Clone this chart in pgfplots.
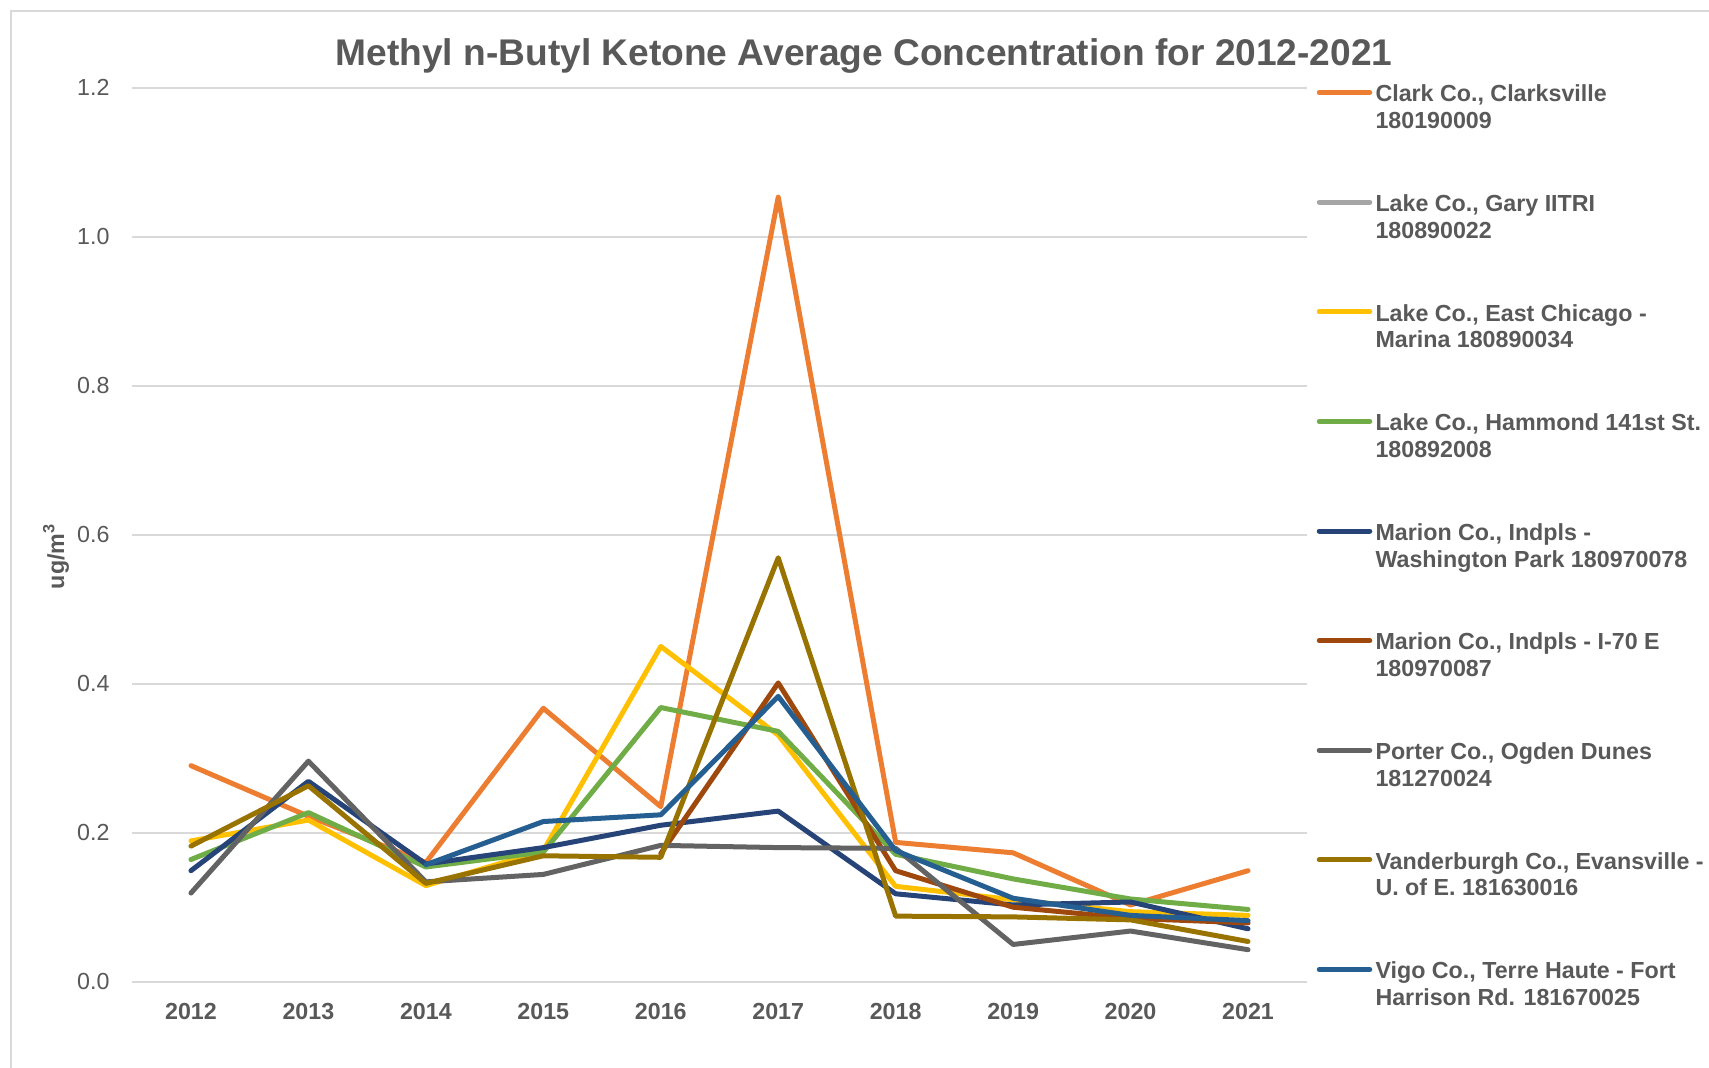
\documentclass[border=0pt]{standalone}
\usepackage{fontspec}
\setmainfont{Liberation Sans}
\usepackage{pgfplots}
\pgfplotsset{compat=1.18}
\definecolor{txt}{HTML}{595959}
\definecolor{gridc}{HTML}{D9D9D9}
\definecolor{cclark}{HTML}{ED7D31}
\definecolor{cgary}{HTML}{A5A5A5}
\definecolor{ceast}{HTML}{FFC000}
\definecolor{cham}{HTML}{70AD47}
\definecolor{cwash}{HTML}{264478}
\definecolor{ci70}{HTML}{9E480E}
\definecolor{cport}{HTML}{636363}
\definecolor{cvand}{HTML}{997300}
\definecolor{cvigo}{HTML}{255E91}
\newcommand{\ls}{\rule[-2.3pt]{0pt}{9.3pt}}
\begin{document}
\begin{tikzpicture}
\useasboundingbox (0,0) rectangle (683.6pt,426.8pt);
\clip (0,0) rectangle (683.6pt,426.8pt);
\fill[white] (0,0) rectangle (683.6pt,426.8pt);
\draw[color=gridc, line width=0.7pt] (4.5pt,-5pt) -- (4.5pt,422.5pt) -- (700pt,422.5pt);
\begin{axis}[
  at={(52.9pt,34.12pt)}, anchor=south west,
  width=469.8pt, height=357.6pt, scale only axis,
  xmin=2011.5, xmax=2021.5, ymin=0, ymax=1.2,
  xtick={2012,2013,2014,2015,2016,2017,2018,2019,2020,2021},
  ytick={0,0.2,0.4,0.6,0.8,1.0,1.2},
  /pgf/number format/assume math mode=true,
  xticklabel style={/pgf/number format/1000 sep={}, font=\fontsize{9.3}{11}\selectfont\bfseries, text=txt, anchor=north, inner sep=0pt, yshift=-8.4pt},
  yticklabel style={/pgf/number format/fixed, /pgf/number format/fixed zerofill, /pgf/number format/precision=1, font=\fontsize{9.3}{11}\selectfont, text=txt, anchor=east, inner sep=0pt, xshift=-8.9pt},
  major tick length=0pt, tick style={draw=none},
  axis line style={draw=none},
  ymajorgrids, grid style={color=gridc, line width=0.7pt},
  title={Methyl n-Butyl Ketone Average Concentration for 2012-2021},
  title style={at={(axis description cs:0.6232,1.0076)}, anchor=base, font=\fontsize{14.85}{17}\selectfont\bfseries, text=txt},
  ylabel={ug/m\textsuperscript{3}},
  ylabel style={at={(axis description cs:-0.0649,0.476)}, anchor=center, font=\fontsize{9.3}{11}\selectfont\bfseries, text=txt},
  every axis plot/.append style={line width=2pt, line join=round, line cap=round, mark=none},
  legend cell align=left,
  legend style={at={(axis description cs:1.00852,1.00386)}, anchor=north west,
    draw=none, fill=none, inner sep=0pt, outer sep=0pt,
    row sep=24.65pt, column sep=0.5pt,
    font=\fontsize{9.3}{10.7}\selectfont\bfseries, text=txt,
    nodes={align=left, inner sep=0pt, outer sep=0pt}},
  legend image code/.code={\path[draw=none, fill=none] (0pt,0pt) rectangle (22pt,6.3pt); \draw[#1, line width=2pt, line cap=round] (0pt,6.3pt) -- (20.2pt,6.3pt);},
]
\addplot[color=cclark] coordinates {(2012,0.290) (2013,0.222) (2014,0.160) (2015,0.367) (2016,0.235) (2017,1.053) (2018,0.187) (2019,0.173) (2020,0.103) (2021,0.149)};
\addlegendentry{\ls Clark Co., Clarksville\\\ls 180190009}
\addlegendimage{color=cgary, line width=2pt}
\addlegendentry{\ls Lake Co., Gary IITRI\\\ls 180890022}
\addplot[color=ceast] coordinates {(2012,0.189) (2013,0.217) (2014,0.129) (2015,0.176) (2016,0.450) (2017,0.331) (2018,0.128) (2019,0.110) (2020,0.094) (2021,0.089)};
\addlegendentry{\ls Lake Co., East Chicago -\\\ls Marina 180890034}
\addplot[color=cham] coordinates {(2012,0.164) (2013,0.227) (2014,0.154) (2015,0.174) (2016,0.368) (2017,0.336) (2018,0.171) (2019,0.138) (2020,0.111) (2021,0.097)};
\addlegendentry{\ls Lake Co., Hammond 141st St.\\\ls 180892008}
\addplot[color=cwash] coordinates {(2012,0.149) (2013,0.269) (2014,0.158) (2015,0.180) (2016,0.210) (2017,0.229) (2018,0.118) (2019,0.103) (2020,0.107) (2021,0.071)};
\addlegendentry{\ls Marion Co., Indpls -\\\ls Washington Park 180970078}
\addplot[color=ci70] coordinates {(2016,0.172) (2017,0.401) (2018,0.149) (2019,0.100) (2020,0.085) (2021,0.079)};
\addlegendentry{\ls Marion Co., Indpls - I-70 E\\\ls 180970087}
\addplot[color=cport] coordinates {(2012,0.119) (2013,0.296) (2014,0.134) (2015,0.144) (2016,0.183) (2017,0.180) (2018,0.179) (2019,0.050) (2020,0.068) (2021,0.043)};
\addlegendentry{\ls Porter Co., Ogden Dunes\\\ls 181270024}
\addplot[color=cvand] coordinates {(2012,0.182) (2013,0.263) (2014,0.132) (2015,0.169) (2016,0.167) (2017,0.569) (2018,0.088) (2019,0.087) (2020,0.083) (2021,0.054)};
\addlegendentry{\ls Vanderburgh Co., Evansville -\\\ls U. of E. 181630016}
\addplot[color=cvigo] coordinates {(2014,0.157) (2015,0.215) (2016,0.224) (2017,0.383) (2018,0.176) (2019,0.112) (2020,0.089) (2021,0.082)};
\addlegendentry{\ls Vigo Co., Terre Haute - Fort\\\ls Harrison Rd. 181670025}
\end{axis}
\end{tikzpicture}
\end{document}
